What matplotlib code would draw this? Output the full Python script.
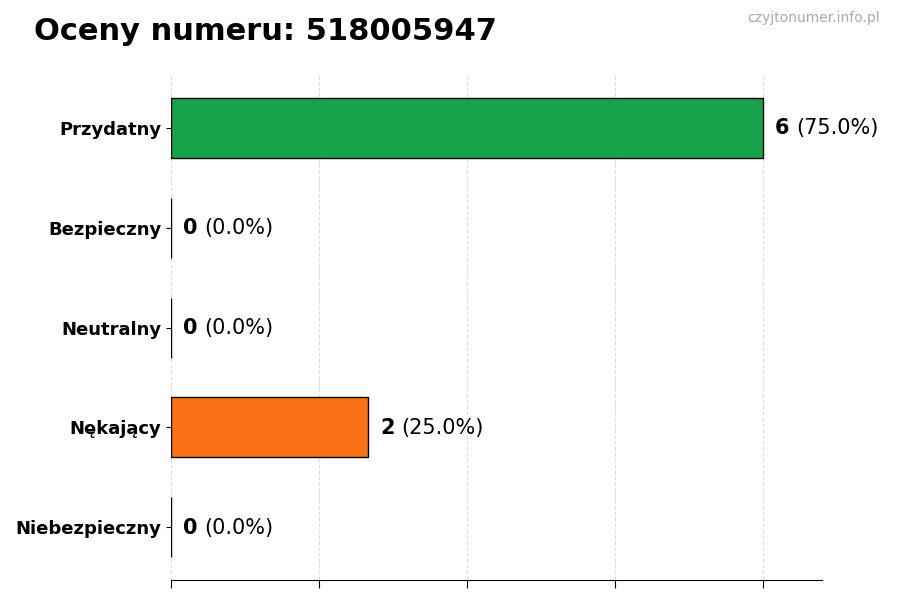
import matplotlib
matplotlib.use("Agg")
import matplotlib.pyplot as plt
from matplotlib import transforms

number = "518005947"
categories = ["Przydatny", "Bezpieczny", "Neutralny", "Nękający", "Niebezpieczny"]
counts = [6, 0, 0, 2, 0]
colors = ["#16a34a", "#22c55e", "#9ca3af", "#f97316", "#dc2626"]

total = sum(counts)
fig = plt.figure(figsize=(9, 6), dpi=100)
ax = fig.add_axes([0.19, 0.033, 0.723, 0.842])

y = list(range(len(categories)))[::-1]
ax.barh(y, counts, height=0.6, color=colors, edgecolor="black", linewidth=1, zorder=3)

ax.set_xlim(0, max(counts) * 1.1)
ax.set_xticks([max(counts) * i / 4 for i in range(5)])
ax.set_xticklabels([])
ax.tick_params(axis="x", length=6)
ax.set_yticks(y)
ax.set_yticklabels(categories, fontsize=13, fontweight="bold")
ax.grid(axis="x", linestyle="--", color="#dddddd", linewidth=0.8, zorder=0)
for s in ["top", "right", "left"]:
    ax.spines[s].set_visible(False)

# value labels: bold count followed by normal percentage
for yi, c in zip(y, counts):
    pct = c / total * 100 if total else 0
    off = transforms.offset_copy(ax.transData, fig=fig, x=12, y=-0.5, units="dots")
    t = ax.text(c, yi, str(c), fontsize=15, fontweight="bold", va="center", ha="left",
                transform=off)
    fig.canvas.draw()
    bb = t.get_window_extent()
    off2 = transforms.offset_copy(ax.transData, fig=fig, x=12 + bb.width + 7, y=-0.5, units="dots")
    ax.text(c, yi, f"({pct:.1f}%)", fontsize=15, va="center", ha="left", transform=off2)

fig.text(34 / 900, 1 - 32 / 600, f"Oceny numeru: {number}", fontsize=22, fontweight="bold",
         va="center", ha="left")
fig.text(880 / 900, 1 - 18 / 600, "czyjtonumer.info.pl", fontsize=10, color="#aaaaaa",
         va="center", ha="right")

fig.savefig("out.png", dpi=100)
